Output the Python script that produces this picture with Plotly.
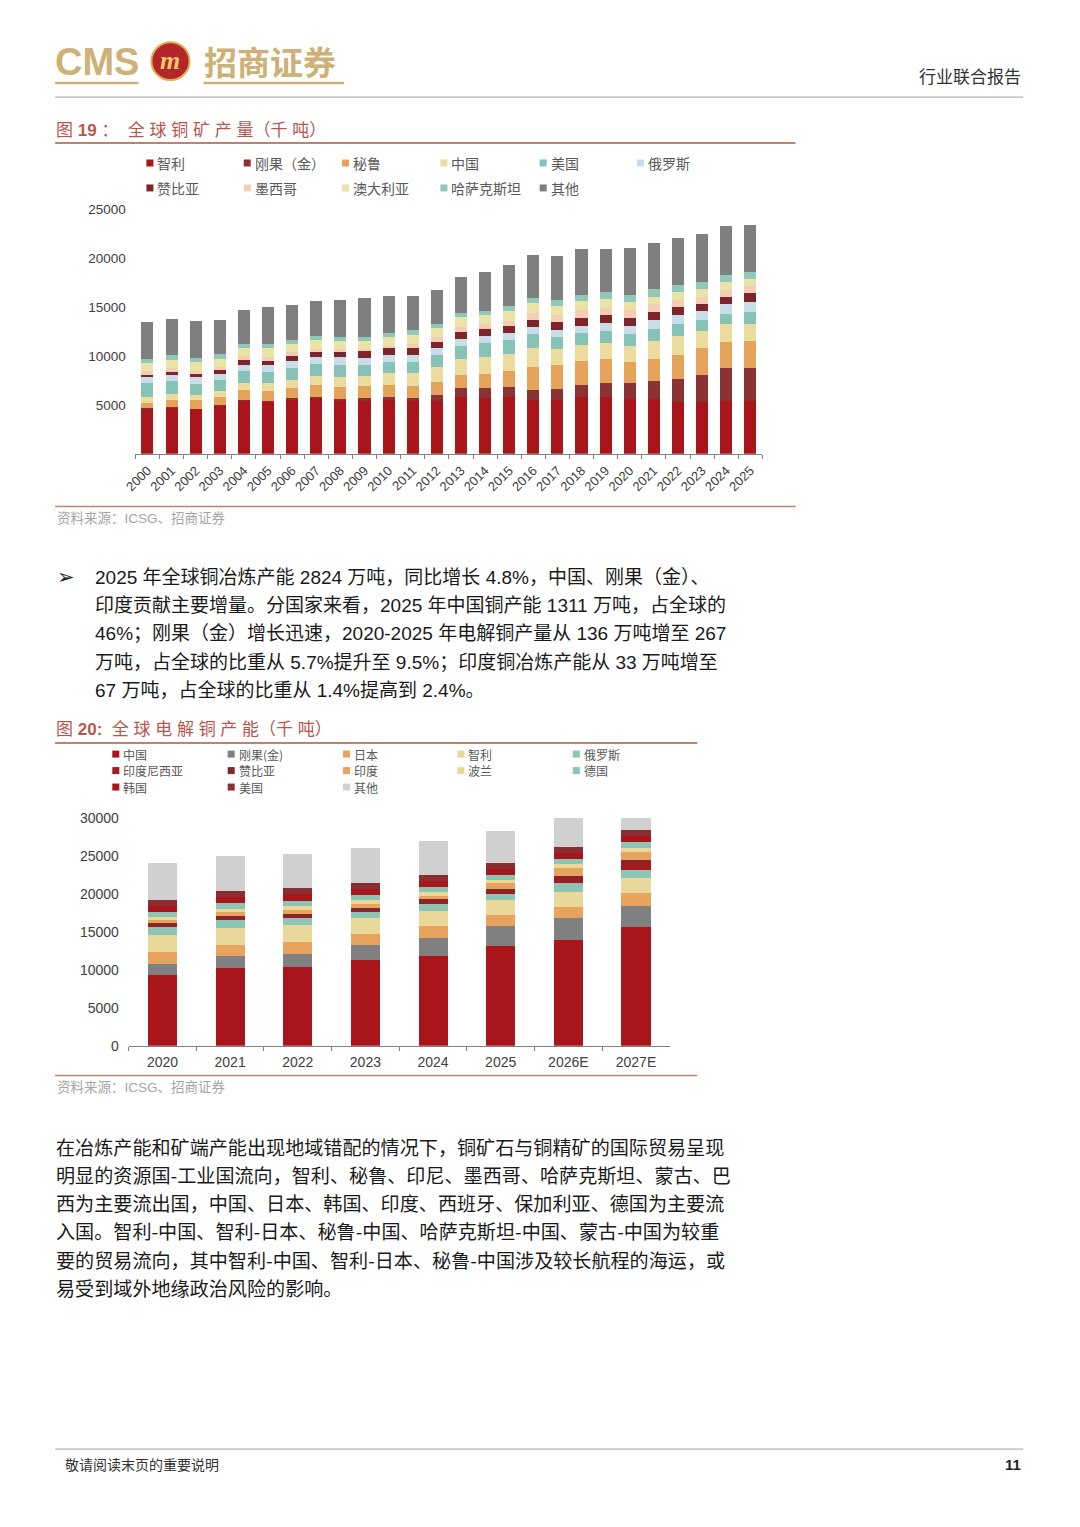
import plotly.graph_objects as go

W, H = 1080, 1527

# ---------------- Chart 1 data: global copper mine production (kt) ----------------
years1 = [str(y) for y in range(2000, 2026)]
chile = [4660,4760,4590,4900,5440,5340,5540,5710,5400,5450,5500,5350,5450,5780,5750,5760,5550,5500,5830,5790,5650,5620,5330,5250,5440,5370]
drc = [30,40,40,50,60,100,130,150,200,250,320,380,550,920,1030,1040,1020,1090,1230,1430,1550,1800,2350,2800,3300,3410]
peru = [550,720,840,840,1040,1010,1050,1190,1270,1280,1250,1240,1300,1360,1380,1700,2350,2450,2440,2460,2150,2300,2450,2760,2650,2720]
china = [590,590,570,610,740,760,870,930,950,960,1180,1270,1600,1680,1760,1710,1850,1660,1590,1600,1700,1850,1900,1750,1870,1770]
usa = [1440,1340,1140,1120,1160,1140,1200,1170,1310,1180,1110,1110,1170,1250,1360,1380,1430,1260,1220,1260,1200,1230,1230,1130,1020,1190]
russia = [580,600,650,670,680,700,720,740,750,680,700,710,720,720,740,730,720,740,770,800,820,900,940,930,1080,1020]
zambia = [250,310,310,350,430,440,510,520,550,660,730,730,690,760,710,710,770,800,850,800,850,840,760,700,720,910]
mexico = [360,370,330,360,410,430,340,350,250,250,270,440,500,480,510,590,750,740,750,720,730,730,750,750,680,790]
australia = [830,870,870,830,850,930,860,870,890,850,870,960,910,990,970,970,950,860,920,930,890,810,810,780,850,680]
kazakhstan = [430,470,490,480,460,400,460,410,420,410,400,420,430,440,430,500,570,670,680,700,730,730,750,740,650,680]
other1 = [3720,3740,3780,3500,3460,3780,3560,3610,3690,3980,3790,3510,3410,3720,3930,4230,4310,4400,4640,4430,4750,4720,4800,4860,5010,4830]

names1 = ["智利", "刚果（金）", "秘鲁", "中国", "美国", "俄罗斯",
          "赞比亚", "墨西哥", "澳大利亚", "哈萨克斯坦", "其他"]
series1 = [chile, drc, peru, china, usa, russia, zambia, mexico, australia, kazakhstan, other1]
colors1 = ["#A8161B", "#8B3334", "#E5A35A", "#EBDB9C", "#87C2B6", "#C8DDEA",
           "#7F2428", "#F4CDB5", "#E9E3A6", "#90C9B9", "#7F7F7F"]
ticks1 = [5000, 10000, 15000, 20000, 25000]

# ---------------- Chart 2 data: global electrolytic copper capacity (kt) ----------------
years2 = ["2020", "2021", "2022", "2023", "2024", "2025", "2026E", "2027E"]
china2 = [9340,10220,10350,11230,11750,13110,13950,15610]
drc2 = [1360,1530,1750,2060,2420,2670,2850,2850]
japan2 = [1620,1540,1540,1450,1620,1490,1530,1630]
chile2 = [2220,2280,2280,2060,2010,1890,1970,1970]
russia2 = [1100,960,880,870,880,880,1100,1100]
indonesia2 = [300,320,300,200,350,400,700,1010]
zambia2 = [250,300,270,230,270,260,270,300]
india2 = [330,440,520,580,480,670,1010,1100]
poland2 = [440,440,570,520,520,440,520,530]
germany2 = [670,780,620,670,660,660,660,700]
korea2 = [800,820,850,760,780,800,800,820]
us2 = [750,790,820,770,760,780,780,800]
other2 = [4870,4610,4510,4600,4500,4190,3820,1600]

names2 = ["中国", "刚果(金)", "日本", "智利", "俄罗斯",
          "印度尼西亚", "赞比亚", "印度", "波兰", "德国",
          "韩国", "美国", "其他"]
series2 = [china2, drc2, japan2, chile2, russia2, indonesia2, zambia2, india2,
           poland2, germany2, korea2, us2, other2]
colors2 = ["#A8161B", "#808080", "#E8A35E", "#E8D99A", "#8CC5B5",
           "#A31A1F", "#7E2C30", "#E8A35E", "#E8D99A", "#8CC5B5",
           "#A8161B", "#8A2F31", "#D0D0D0"]
ticks2 = [0, 5000, 10000, 15000, 20000, 25000, 30000]

# ---------------- helpers (page pixel -> paper coords, with viewer offset compensation) ----------------
AX, SX = 22.0, 0.9857
AY, SY = 14.8, 0.991

def px(x):
    return ((x - AX) / SX) / W

def py(y):
    return 1 - ((y - AY) / SY) / H

CJK = "Noto Sans CJK SC"
MIX = "Liberation Sans, Noto Sans CJK SC, sans-serif"

fig = go.Figure()

for name, vals, col in zip(names1, series1, colors1):
    fig.add_trace(go.Bar(x=years1, y=vals, name=name, marker_color=col,
                         marker_line_width=0, width=0.5, xaxis="x", yaxis="y",
                         showlegend=False))
for name, vals, col in zip(names2, series2, colors2):
    fig.add_trace(go.Bar(x=years2, y=vals, name=name, marker_color=col,
                         marker_line_width=0, width=0.43, xaxis="x2", yaxis="y2",
                         showlegend=False))

shapes = []
annotations = []

def line(x0, y0, x1, y1, color, width=1):
    shapes.append(dict(type="line", xref="paper", yref="paper",
                       x0=px(x0), y0=py(y0), x1=px(x1), y1=py(y1),
                       line=dict(color=color, width=width)))

def txt(x, y, s, size, color, family=CJK, xanchor="left"):
    annotations.append(dict(x=px(x), y=py(y), xref="paper", yref="paper",
                            text=s, showarrow=False, xanchor=xanchor,
                            yanchor="middle", align="left",
                            font=dict(size=size, color=color, family=family)))

def legend_item(x, y, label, color, size=14):
    shapes.append(dict(type="rect", xref="paper", yref="paper",
                       x0=px(x), x1=px(x + 7), y0=py(y + 3.5), y1=py(y - 3.5),
                       fillcolor=color, line=dict(width=0)))
    txt(x + 9, y, label, size, "#595959")

# ---------------- header ----------------
gold = "#CDB176"
txt(55, 61, "<b>CMS</b>", 38, gold, family="Liberation Sans")
line(57, 82, 140, 82, gold, 2.5)
shapes.append(dict(type="circle", xref="paper", yref="paper",
                   x0=px(153), x1=px(191), y0=py(41), y1=py(79),
                   fillcolor="#B3262A", line=dict(color="#E0B050", width=2)))
txt(172, 59, "<b><i>m</i></b>", 26, "#F2C76A", family="Liberation Serif", xanchor="center")
txt(203, 60, "<b>招商证券</b>", 33, gold)
line(205, 82, 345, 82, gold, 2.5)
txt(1022, 74, "行业联合报告", 17, "#333333", xanchor="right")
line(57, 96, 1022, 96, "#9E9E9E", 1)

# ---------------- figure 19 ----------------
title_col = "#B8564C"
rule_col = "#B98472"
txt(56, 129, "图 <b>19</b> ：  全 球 铜 矿 产 量（千 吨）", 17, title_col, family=MIX)
line(57, 142, 795, 142, rule_col, 2)

cols1 = [148, 245, 343, 441, 540, 637]
for i, (nm, col) in enumerate(zip(names1, colors1)):
    r, c = divmod(i, 6)
    legend_item(cols1[c], 162 + 25 * r, nm, col)

line(57, 506, 795, 506, rule_col, 1.5)
txt(57, 518, "资料来源：ICSG、招商证券", 13.5, "#A6A6A6", family=MIX)

# ---------------- paragraph 1 ----------------
para1 = [
    "2025 年全球铜冶炼产能 2824 万吨，同比增长 4.8%，中国、刚果（金）、",
    "印度贡献主要增量。分国家来看，2025 年中国铜产能 1311 万吨，占全球的",
    "46%；刚果（金）增长迅速，2020-2025 年电解铜产量从 136 万吨增至 267",
    "万吨，占全球的比重从 5.7%提升至 9.5%；印度铜冶炼产能从 33 万吨增至",
    "67 万吨，占全球的比重从 1.4%提高到 2.4%。",
]
txt(57, 577, "➢", 21, "#222222", family="DejaVu Sans")
for i, s in enumerate(para1):
    txt(95, 577 + 28.3 * i, s, 19, "#1A1A1A", family=MIX)

# ---------------- figure 20 ----------------
txt(56, 729, "图 <b>20:</b>  全 球 电 解 铜 产 能（千 吨）", 17, title_col, family=MIX)
line(57, 743, 697, 743, rule_col, 2)

cols2 = [114, 229, 344, 458, 573]
for i, (nm, col) in enumerate(zip(names2, colors2)):
    r, c = divmod(i, 5)
    legend_item(cols2[c], 754 + 16.5 * r, nm, col, size=12)

line(57, 1076, 697, 1076, rule_col, 1.5)
txt(57, 1088, "资料来源：ICSG、招商证券", 13.5, "#A6A6A6", family=MIX)

# ---------------- paragraph 2 ----------------
para2 = [
    "在冶炼产能和矿端产能出现地域错配的情况下，铜矿石与铜精矿的国际贸易呈现",
    "明显的资源国-工业国流向，智利、秘鲁、印尼、墨西哥、哈萨克斯坦、蒙古、巴",
    "西为主要流出国，中国、日本、韩国、印度、西班牙、保加利亚、德国为主要流",
    "入国。智利-中国、智利-日本、秘鲁-中国、哈萨克斯坦-中国、蒙古-中国为较重",
    "要的贸易流向，其中智利-中国、智利-日本、秘鲁-中国涉及较长航程的海运，或",
    "易受到域外地缘政治风险的影响。",
]
for i, s in enumerate(para2):
    txt(56, 1147 + 28.3 * i, s, 19.1, "#1A1A1A")

# ---------------- footer ----------------
line(57, 1450, 1022, 1450, "#9E9E9E", 1)
txt(65, 1465, "敬请阅读末页的重要说明", 14, "#333333")
txt(1022, 1465, "<b>11</b>", 15, "#222222", family="Liberation Sans", xanchor="right")

axis_font = dict(family="Liberation Sans, Arial, sans-serif", size=13.5, color="#404040")

fig.update_layout(
    width=W, height=H,
    margin=dict(l=0, r=0, t=0, b=0),
    paper_bgcolor="white", plot_bgcolor="white",
    barmode="stack", bargap=0.5,
    showlegend=False,
    shapes=shapes, annotations=annotations,
    xaxis=dict(domain=[px(137), px(762)], anchor="y", type="category",
               showline=True, linecolor="#7F7F7F", linewidth=1,
               ticks="outside", ticklen=4, tickcolor="#7F7F7F", tickson="boundaries",
               ticklabelstandoff=3,
               tickangle=-45, tickfont=dict(axis_font, size=13), showgrid=False,
               zeroline=False),
    yaxis=dict(domain=[py(453.3), py(208.3)], anchor="x", range=[0, 25000],
               tickvals=ticks1, ticktext=[str(v) for v in ticks1],
               showline=False, showgrid=False, zeroline=False,
               ticks="outside", ticklen=6, tickcolor="rgba(0,0,0,0)",
               tickfont=axis_font),
    xaxis2=dict(domain=[px(130.3), px(669.7)], anchor="y2", type="category",
                showline=True, linecolor="#7F7F7F", linewidth=1,
                ticks="outside", ticklen=4, tickcolor="#7F7F7F", tickson="boundaries",
                ticklabelstandoff=4,
                tickfont=dict(axis_font, size=14), showgrid=False, zeroline=False),
    yaxis2=dict(domain=[py(1046), py(818)], anchor="x2", range=[0, 30000],
                tickvals=ticks2, ticktext=[str(v) for v in ticks2],
                showline=False, showgrid=False, zeroline=False,
                ticks="outside", ticklen=6, tickcolor="rgba(0,0,0,0)",
                tickfont=dict(axis_font, size=14)),
)

fig.write_html("out.html")
